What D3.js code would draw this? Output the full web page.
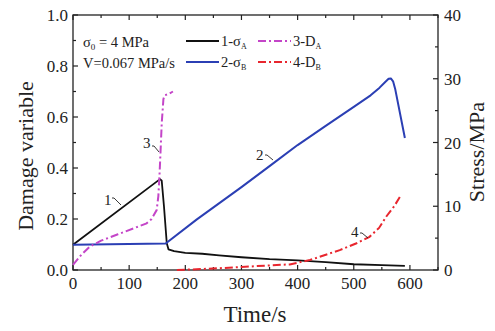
<!DOCTYPE html>
<html><head><meta charset="utf-8">
<script src="https://cdn.jsdelivr.net/npm/d3@7"></script>
<style>body{margin:0;background:#fff}svg{display:block}</style>
</head><body><svg id="c" width="495" height="331"></svg>
<script>
// Time (s) and stress (MPa) for curve 1 (sigma_A)
const tA = [0,155,158,162,167,170,180,200,230,260,300,350,400,450,500,550,591];
const sA = [3.95,14.25,14.0,10.0,4.2,3.25,2.95,2.7,2.55,2.3,2.0,1.7,1.5,1.25,0.9,0.75,0.65];
// curve 2 (sigma_B)
const tB = [0,165,220,300,350,400,450,500,530,546,556,562,566,570,574,591];
const sB = [3.95,4.15,7.9,13.0,16.3,19.6,22.6,25.6,27.4,28.6,29.5,30.0,30.05,29.6,28.3,20.7];
// curve 3 (D_A)
const tDA = [0,15,30,50,80,110,131,140,149,152,154,156,158,161,163,170,178];
const dA = [0.02,0.06,0.092,0.115,0.14,0.165,0.183,0.2,0.235,0.29,0.37,0.47,0.575,0.67,0.685,0.69,0.70];
// curve 4 (D_B)
const tDB = [185,220,260,300,350,386,422,475,505,528,545,558,572,582];
const dB = [0.0,0.003,0.007,0.012,0.018,0.022,0.039,0.078,0.105,0.13,0.165,0.21,0.25,0.286];
const xTicks = [0,100,200,300,400,500,600];
const yLeftTicks = [0,0.2,0.4,0.6,0.8,1.0];
const yRightTicks = [0,10,20,30,40];

const FONT = '"Liberation Serif", "Tinos", "Times New Roman", serif';
const svg = d3.select("#c");
const L=73,R=438,T=15,B=270;
const x = d3.scaleLinear().domain([0,650]).range([L,R]);
const yL = d3.scaleLinear().domain([0,1]).range([B,T]);
const yR = d3.scaleLinear().domain([0,40]).range([B,T]);
function txt(parent){ return parent.append("text").style("font-family",FONT); }

svg.append("rect").attr("x",L).attr("y",T).attr("width",R-L).attr("height",B-T)
  .attr("fill","none").attr("stroke","#222").attr("stroke-width",1.3);

const tickG = svg.append("g").attr("stroke","#222").attr("stroke-width",1.2);
const xMinor = d3.range(0,651,50), lMinor = d3.range(0,1.001,0.1), rMinor = d3.range(0,40.1,5);
xMinor.forEach(v=>{
  const len = (v%100===0)?5:3;
  tickG.append("line").attr("x1",x(v)).attr("x2",x(v)).attr("y1",B).attr("y2",B-len);
  tickG.append("line").attr("x1",x(v)).attr("x2",x(v)).attr("y1",T).attr("y2",T+len);
});
lMinor.forEach((v,i)=>{
  const len = (i%2===0)?5:3;
  tickG.append("line").attr("x1",L).attr("x2",L+len).attr("y1",yL(v)).attr("y2",yL(v));
});
rMinor.forEach((v,i)=>{
  const len = (i%2===0)?5:3;
  tickG.append("line").attr("x1",R).attr("x2",R-len).attr("y1",yR(v)).attr("y2",yR(v));
});

const axT = svg.append("g").attr("fill","#222");
xTicks.forEach(v=>txt(axT).attr("font-size",17).attr("x",x(v)).attr("y",B+19).attr("text-anchor","middle").text(v));
yLeftTicks.forEach(v=>txt(axT).attr("font-size",17).attr("x",L-5).attr("y",yL(v)+6).attr("text-anchor","end").text(v.toFixed(1)));
yRightTicks.forEach(v=>txt(axT).attr("font-size",17).attr("x",R+6).attr("y",yR(v)+6).attr("text-anchor","start").text(v));

txt(svg).attr("x",255).attr("y",322).attr("text-anchor","middle").attr("font-size",23).attr("fill","#222").text("Time/s");
txt(svg).attr("transform","translate(33,156) rotate(-90)").attr("text-anchor","middle").attr("font-size",22).attr("fill","#222").text("Damage variable");
txt(svg).attr("transform","translate(484,152) rotate(-90)").attr("text-anchor","middle").attr("font-size",22).attr("fill","#222").text("Stress/MPa");

const line = (xs, ys, sc) => d3.line()(xs.map((t,i)=>[x(t), sc(ys[i])]));
const dash = "8,3,2,3";
svg.append("path").attr("d",line(tA,sA,yR)).attr("fill","none").attr("stroke","#111").attr("stroke-width",1.8).attr("stroke-linejoin","round");
svg.append("path").attr("d",line(tB,sB,yR)).attr("fill","none").attr("stroke","#2b3fb4").attr("stroke-width",2).attr("stroke-linejoin","round");
svg.append("path").attr("d",line(tDA,dA,yL)).attr("fill","none").attr("stroke","#c445c8").attr("stroke-width",2).attr("stroke-dasharray",dash);
svg.append("path").attr("d",line(tDB,dB,yL)).attr("fill","none").attr("stroke","#e8262e").attr("stroke-width",2).attr("stroke-dasharray",dash);

const lab = [["1",104,205,112,198,121,205],["3",143,148,152,146,159,152],["2",256,160,265,155,273,160],["4",351,237,360,233,368,238]];
lab.forEach(d=>{
  txt(svg).attr("x",d[1]).attr("y",d[2]).attr("font-size",15).attr("fill","#222").text(d[0]);
  svg.append("path").attr("d",`M${d[3]},${d[4]} L${d[3]+2},${d[4]} L${d[5]},${d[6]}`).attr("fill","none").attr("stroke","#222").attr("stroke-width",0.9);
});

const ann = svg.append("g").attr("fill","#222");
const s0 = txt(ann).attr("font-size",14.5).attr("x",83).attr("y",47);
s0.append("tspan").text("σ");
s0.append("tspan").attr("font-size",9).attr("dy",3).text("0");
s0.append("tspan").attr("dy",-3).text(" = 4 MPa");
txt(ann).attr("font-size",14.5).attr("x",83).attr("y",68).text("V=0.067 MPa/s");

const leg = [["1","A","#111",null,186,41],["2","B","#2b3fb4",null,186,62],["3","A","#c445c8",dash,258,41],["4","B","#e8262e",dash,258,62]];
leg.forEach(d=>{
  svg.append("line").attr("x1",d[4]).attr("x2",d[4]+33).attr("y1",d[5]).attr("y2",d[5])
    .attr("stroke",d[2]).attr("stroke-width",2).attr("stroke-dasharray",d[3]);
  const t = txt(svg).attr("x",d[4]+35).attr("y",d[5]+5).attr("font-size",14.5).attr("fill","#222");
  t.append("tspan").text(d[0]+"-"+(d[0]==="1"||d[0]==="2"?"σ":"D"));
  t.append("tspan").attr("font-size",8).attr("dy",3).text(d[1]);
});
</script></body></html>
